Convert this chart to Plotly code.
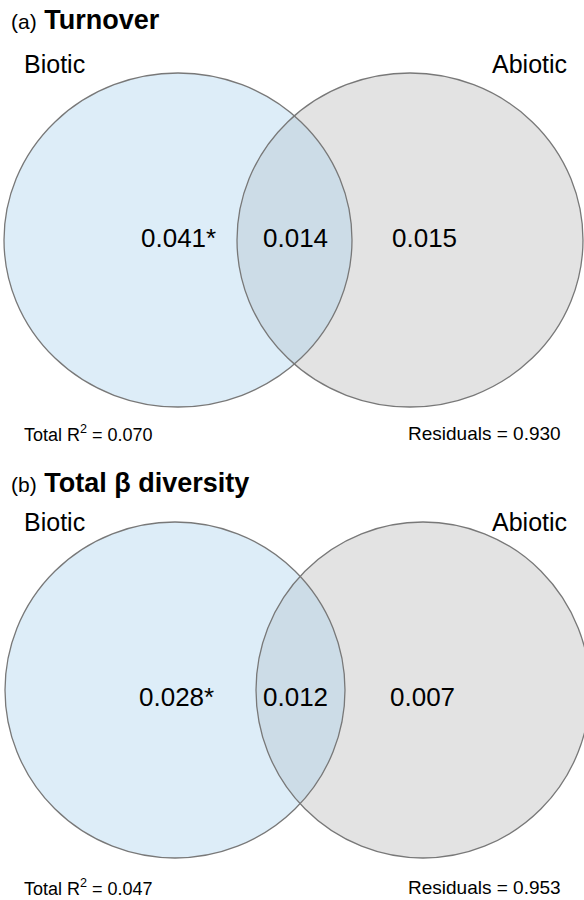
import plotly.graph_objects as go

# ---- data ----
panels = ["(a)", "(b)"]
titles = ["Turnover", "Total β diversity"]
set_labels = ["Biotic", "Abiotic"]
unique_biotic = ["0.041*", "0.028*"]
shared = ["0.014", "0.012"]
unique_abiotic = ["0.015", "0.007"]
total_r2 = ["0.070", "0.047"]
residuals = ["0.930", "0.953"]

# ---- layout geometry (pixel space) ----
geo = [
    dict(lc=(178, 240, 174, 167), rc=(410, 240, 173, 167),
         nums_x=(178, 295, 424), num_y=238, foot_y=433, title_y=20, lab_y=64),
    dict(lc=(175, 690, 170, 168), rc=(423, 690, 167, 168),
         nums_x=(176, 295, 422), num_y=697, foot_y=887, title_y=483, lab_y=522),
]

FONT = "Liberation Sans, Arial, sans-serif"
fig = go.Figure()
fig.add_trace(go.Scatter(x=[0, 584], y=[0, 900], mode="markers",
                         marker=dict(opacity=0), hoverinfo="skip", showlegend=False))

shapes = []
annotations = []
for i, g in enumerate(geo):
    lx, ly, lrx, lry = g["lc"]
    rx_, ry_, rrx, rry = g["rc"]
    # fills
    shapes.append(dict(type="circle", xref="x", yref="y",
                       x0=rx_ - rrx, x1=rx_ + rrx, y0=ry_ - rry, y1=ry_ + rry,
                       fillcolor="rgb(227,227,227)", line=dict(width=0), layer="below"))
    shapes.append(dict(type="circle", xref="x", yref="y",
                       x0=lx - lrx, x1=lx + lrx, y0=ly - lry, y1=ly + lry,
                       fillcolor="rgba(170,210,237,0.4)", line=dict(width=0), layer="below"))
    # outlines
    for (cx, cy, ex, ey) in (g["lc"], g["rc"]):
        shapes.append(dict(type="circle", xref="x", yref="y",
                           x0=cx - ex, x1=cx + ex, y0=cy - ey, y1=cy + ey,
                           fillcolor="rgba(0,0,0,0)", line=dict(color="rgb(120,120,120)", width=1.3),
                           layer="below"))
    # title
    annotations.append(dict(x=9, y=g["title_y"], xref="x", yref="y", xanchor="left", yanchor="middle",
                            text=f"<span style='font-size:21px'>{panels[i]}</span> <b>{titles[i]}</b>",
                            showarrow=False, font=dict(family=FONT, size=27, color="black")))
    # set labels
    annotations.append(dict(x=22, y=g["lab_y"], xref="x", yref="y", xanchor="left", yanchor="middle",
                            text=set_labels[0], showarrow=False,
                            font=dict(family=FONT, size=25, color="black")))
    annotations.append(dict(x=569, y=g["lab_y"], xref="x", yref="y", xanchor="right", yanchor="middle",
                            text=set_labels[1], showarrow=False,
                            font=dict(family=FONT, size=25, color="black")))
    # numbers
    for xv, t in zip(g["nums_x"], (unique_biotic[i], shared[i], unique_abiotic[i])):
        annotations.append(dict(x=xv, y=g["num_y"], xref="x", yref="y", xanchor="center", yanchor="middle",
                                text=t, showarrow=False,
                                font=dict(family=FONT, size=26, color="black")))
    # footers
    annotations.append(dict(x=22, y=g["foot_y"], xref="x", yref="y", xanchor="left", yanchor="middle",
                            text=f"Total R<sup>2</sup> = {total_r2[i]}", showarrow=False,
                            font=dict(family=FONT, size=18, color="black")))
    annotations.append(dict(x=563, y=g["foot_y"], xref="x", yref="y", xanchor="right", yanchor="middle",
                            text=f"Residuals = {residuals[i]}", showarrow=False,
                            font=dict(family=FONT, size=19, color="black")))

fig.update_layout(
    width=584, height=900, margin=dict(l=0, r=0, t=0, b=0),
    paper_bgcolor="white", plot_bgcolor="white",
    xaxis=dict(range=[0, 584], visible=False, fixedrange=True),
    yaxis=dict(range=[900, 0], visible=False, fixedrange=True),
    shapes=shapes, annotations=annotations, showlegend=False,
)
fig.write_html("out.html", config={"displayModeBar": False},
               post_script="document.body.style.margin='0';document.body.style.overflow='hidden';")
